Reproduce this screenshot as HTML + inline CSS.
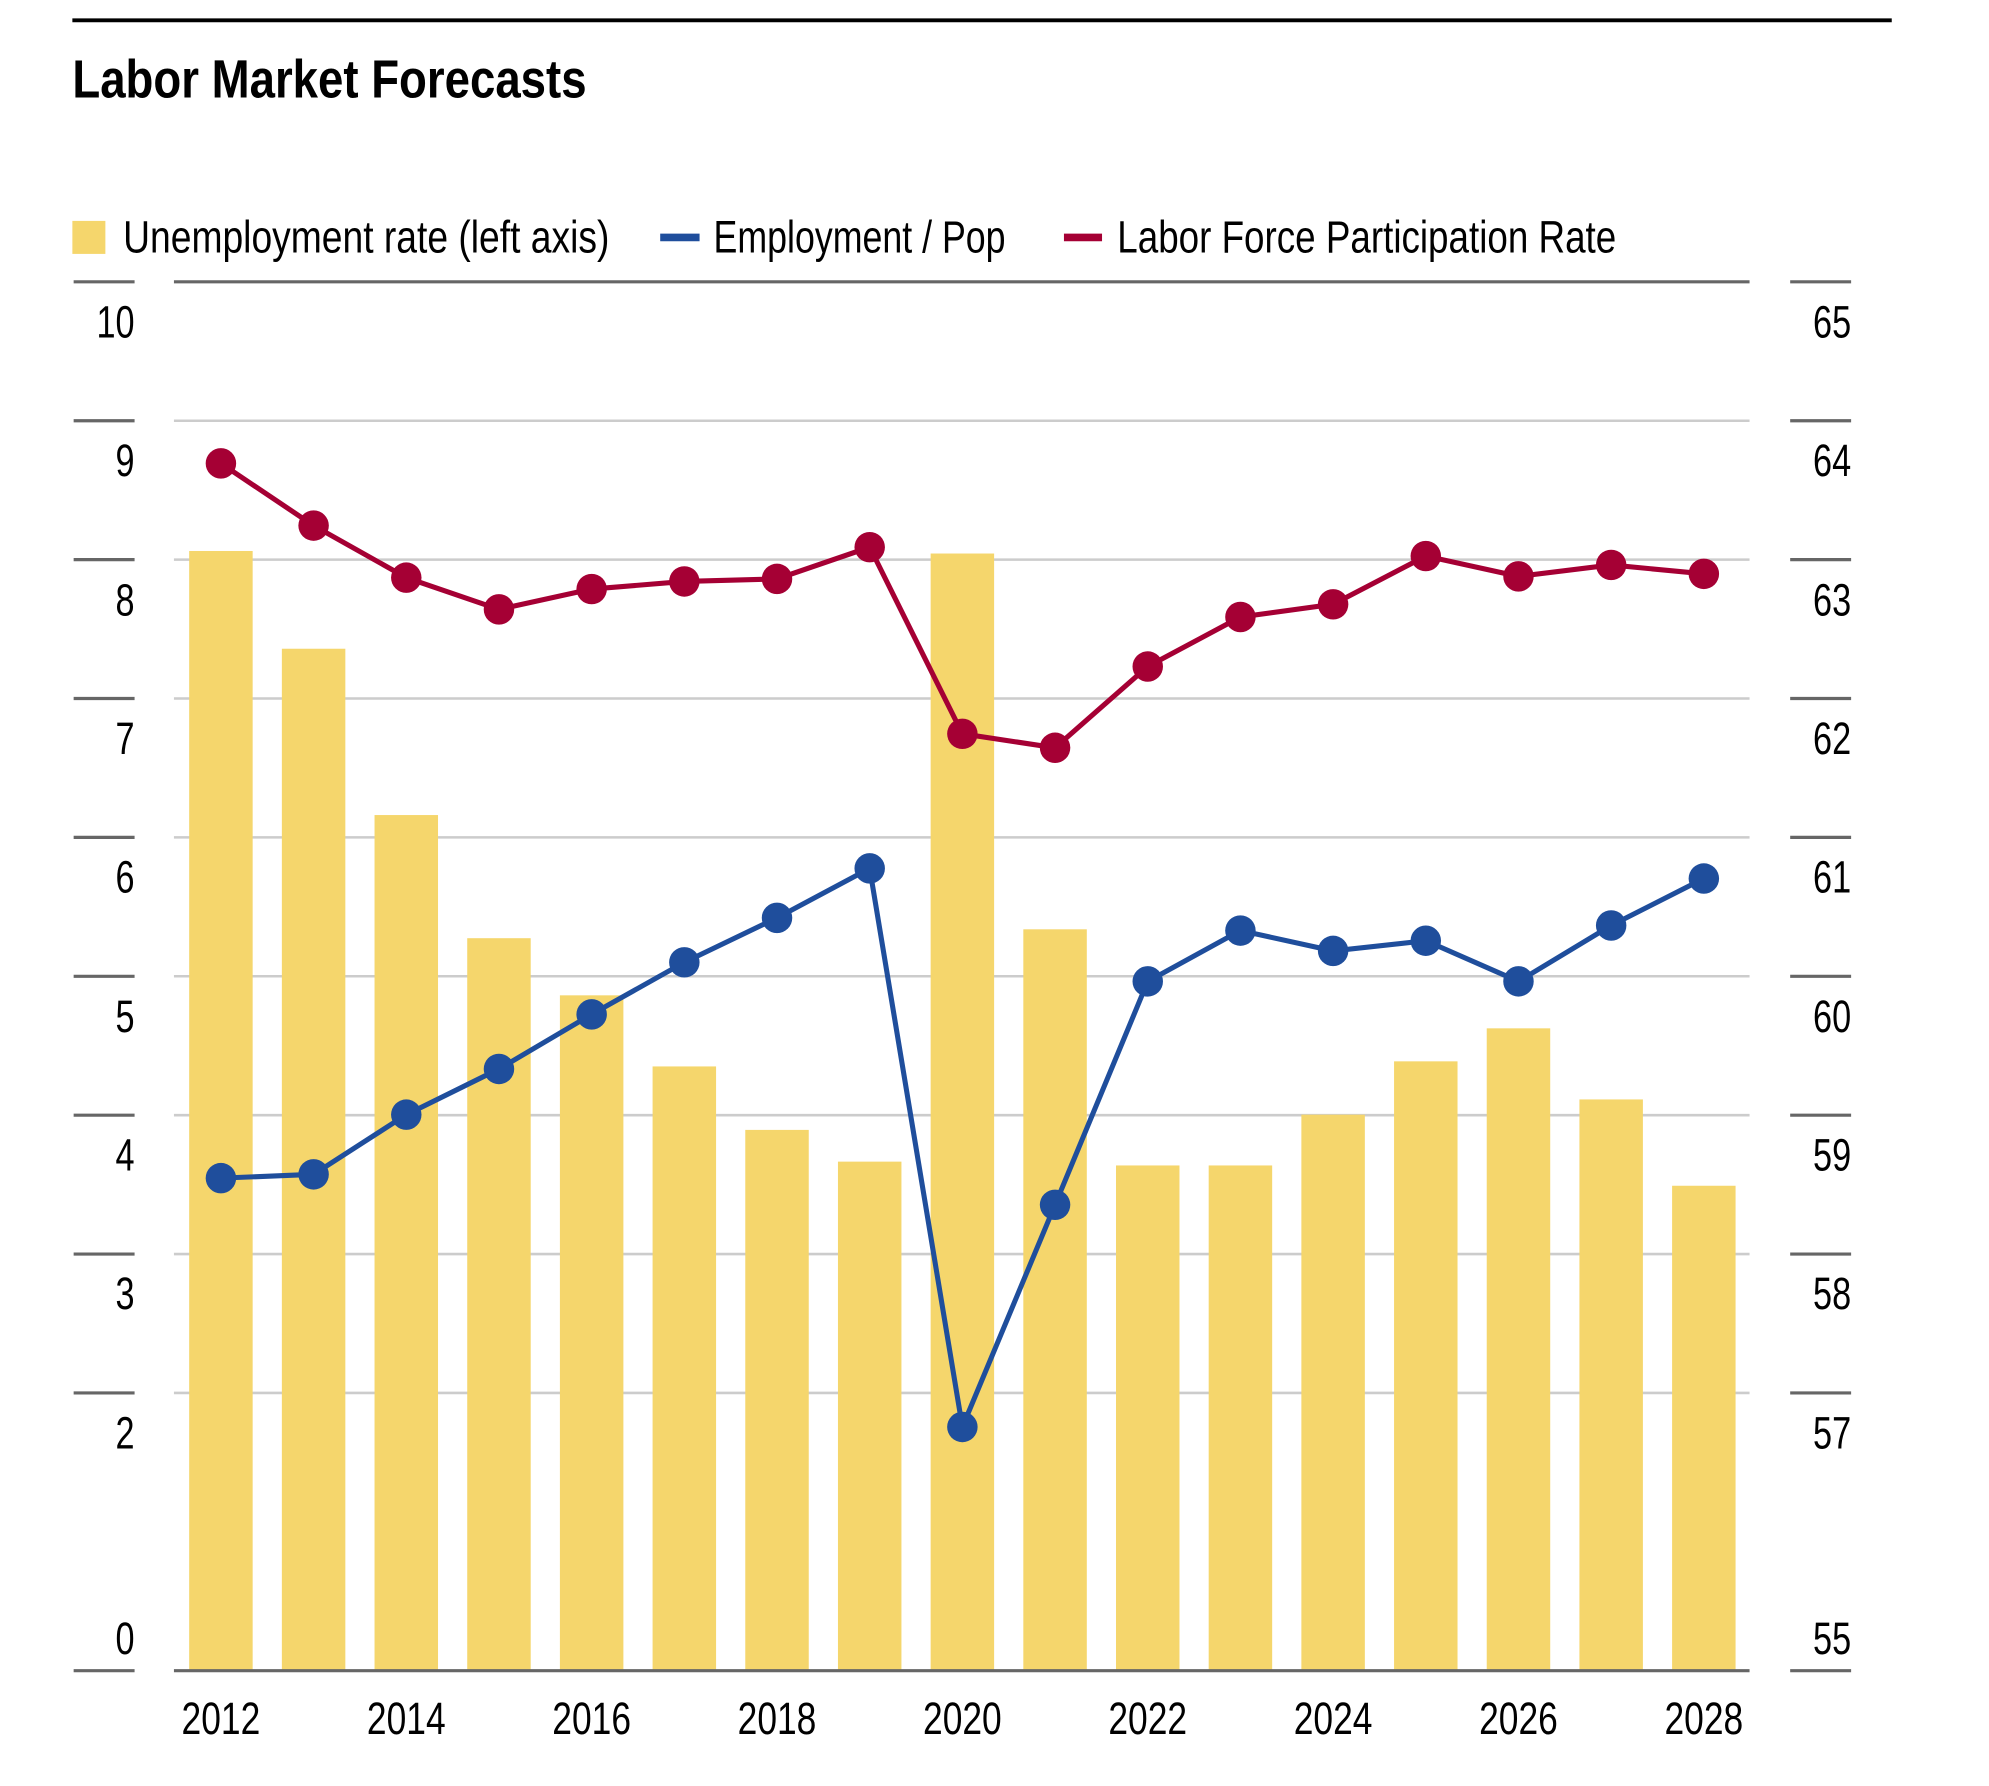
<!DOCTYPE html>
<html><head><meta charset="utf-8"><style>html,body{margin:0;padding:0;background:#fff}svg{display:block}</style></head>
<body>
<svg width="1989" height="1786" viewBox="0 0 1566.6 1406.8" preserveAspectRatio="none" xmlns="http://www.w3.org/2000/svg" font-family="Liberation Sans, sans-serif">
<rect width="1567" height="1407" fill="#fff"/>
<line x1="57" y1="16" x2="1490" y2="16" stroke="#000" stroke-width="3"/>
<text x="57" y="77" font-size="42" font-weight="bold" textLength="405" lengthAdjust="spacingAndGlyphs">Labor Market Forecasts</text>
<rect x="57" y="174" width="26" height="26" fill="#f5d66c"/>
<text x="97" y="199" font-size="36" textLength="383" lengthAdjust="spacingAndGlyphs">Unemployment rate (left axis)</text>
<line x1="520" y1="187" x2="551" y2="187" stroke="#1f4e9c" stroke-width="6"/>
<text x="562" y="199" font-size="36" textLength="230" lengthAdjust="spacingAndGlyphs">Employment / Pop</text>
<line x1="838" y1="187" x2="868" y2="187" stroke="#a50034" stroke-width="6"/>
<text x="880" y="199" font-size="36" textLength="393" lengthAdjust="spacingAndGlyphs">Labor Force Participation Rate</text>
<g stroke="#cccccc" stroke-width="2">
<line x1="137" y1="331.4" x2="1378" y2="331.4"/><line x1="137" y1="440.8" x2="1378" y2="440.8"/>
<line x1="137" y1="550.2" x2="1378" y2="550.2"/><line x1="137" y1="659.6" x2="1378" y2="659.6"/>
<line x1="137" y1="769" x2="1378" y2="769"/><line x1="137" y1="878.4" x2="1378" y2="878.4"/>
<line x1="137" y1="987.8" x2="1378" y2="987.8"/><line x1="137" y1="1097.2" x2="1378" y2="1097.2"/>
</g>
<g stroke="#666" stroke-width="2.5">
<line x1="137" y1="222" x2="1378" y2="222"/>
<line x1="58" y1="222" x2="106" y2="222"/><line x1="1410" y1="222" x2="1458" y2="222"/>
<line x1="58" y1="331.4" x2="106" y2="331.4"/><line x1="1410" y1="331.4" x2="1458" y2="331.4"/>
<line x1="58" y1="440.8" x2="106" y2="440.8"/><line x1="1410" y1="440.8" x2="1458" y2="440.8"/>
<line x1="58" y1="550.2" x2="106" y2="550.2"/><line x1="1410" y1="550.2" x2="1458" y2="550.2"/>
<line x1="58" y1="659.6" x2="106" y2="659.6"/><line x1="1410" y1="659.6" x2="1458" y2="659.6"/>
<line x1="58" y1="769" x2="106" y2="769"/><line x1="1410" y1="769" x2="1458" y2="769"/>
<line x1="58" y1="878.4" x2="106" y2="878.4"/><line x1="1410" y1="878.4" x2="1458" y2="878.4"/>
<line x1="58" y1="987.8" x2="106" y2="987.8"/><line x1="1410" y1="987.8" x2="1458" y2="987.8"/>
<line x1="58" y1="1097.2" x2="106" y2="1097.2"/><line x1="1410" y1="1097.2" x2="1458" y2="1097.2"/>
<line x1="58" y1="1316" x2="106" y2="1316"/><line x1="1410" y1="1316" x2="1458" y2="1316"/>
</g>
<g fill="#f5d66c">
<rect x="149" y="434" width="50" height="882"/><rect x="222" y="511" width="50" height="805"/>
<rect x="295" y="642" width="50" height="674"/><rect x="368" y="739" width="50" height="577"/>
<rect x="441" y="784" width="50" height="532"/><rect x="514" y="840" width="50" height="476"/>
<rect x="587" y="890" width="50" height="426"/><rect x="660" y="915" width="50" height="401"/>
<rect x="733" y="436" width="50" height="880"/><rect x="806" y="732" width="50" height="584"/>
<rect x="879" y="918" width="50" height="398"/><rect x="952" y="918" width="50" height="398"/>
<rect x="1025" y="878" width="50" height="438"/><rect x="1098" y="836" width="50" height="480"/>
<rect x="1171" y="810" width="50" height="506"/><rect x="1244" y="866" width="50" height="450"/>
<rect x="1317" y="934" width="50" height="382"/>
</g>
<line x1="137" y1="1316" x2="1378" y2="1316" stroke="#666" stroke-width="2.5"/>
<g font-size="36" text-anchor="end" lengthAdjust="spacingAndGlyphs">
<text x="106" y="266" textLength="30" lengthAdjust="spacingAndGlyphs">10</text>
<text x="106" y="375" textLength="15" lengthAdjust="spacingAndGlyphs">9</text>
<text x="106" y="485" textLength="15" lengthAdjust="spacingAndGlyphs">8</text>
<text x="106" y="594" textLength="15" lengthAdjust="spacingAndGlyphs">7</text>
<text x="106" y="703" textLength="15" lengthAdjust="spacingAndGlyphs">6</text>
<text x="106" y="813" textLength="15" lengthAdjust="spacingAndGlyphs">5</text>
<text x="106" y="922" textLength="15" lengthAdjust="spacingAndGlyphs">4</text>
<text x="106" y="1031" textLength="15" lengthAdjust="spacingAndGlyphs">3</text>
<text x="106" y="1141" textLength="15" lengthAdjust="spacingAndGlyphs">2</text>
<text x="106" y="1303" textLength="15" lengthAdjust="spacingAndGlyphs">0</text>
<text x="1458" y="266" textLength="30" lengthAdjust="spacingAndGlyphs">65</text>
<text x="1458" y="375" textLength="30" lengthAdjust="spacingAndGlyphs">64</text>
<text x="1458" y="485" textLength="30" lengthAdjust="spacingAndGlyphs">63</text>
<text x="1458" y="594" textLength="30" lengthAdjust="spacingAndGlyphs">62</text>
<text x="1458" y="703" textLength="30" lengthAdjust="spacingAndGlyphs">61</text>
<text x="1458" y="813" textLength="30" lengthAdjust="spacingAndGlyphs">60</text>
<text x="1458" y="922" textLength="30" lengthAdjust="spacingAndGlyphs">59</text>
<text x="1458" y="1031" textLength="30" lengthAdjust="spacingAndGlyphs">58</text>
<text x="1458" y="1141" textLength="30" lengthAdjust="spacingAndGlyphs">57</text>
<text x="1458" y="1303" textLength="30" lengthAdjust="spacingAndGlyphs">55</text>
</g>
<g font-size="36" text-anchor="middle">
<text x="174" y="1366" textLength="62" lengthAdjust="spacingAndGlyphs">2012</text>
<text x="320" y="1366" textLength="62" lengthAdjust="spacingAndGlyphs">2014</text>
<text x="466" y="1366" textLength="62" lengthAdjust="spacingAndGlyphs">2016</text>
<text x="612" y="1366" textLength="62" lengthAdjust="spacingAndGlyphs">2018</text>
<text x="758" y="1366" textLength="62" lengthAdjust="spacingAndGlyphs">2020</text>
<text x="904" y="1366" textLength="62" lengthAdjust="spacingAndGlyphs">2022</text>
<text x="1050" y="1366" textLength="62" lengthAdjust="spacingAndGlyphs">2024</text>
<text x="1196" y="1366" textLength="62" lengthAdjust="spacingAndGlyphs">2026</text>
<text x="1342" y="1366" textLength="62" lengthAdjust="spacingAndGlyphs">2028</text>
</g>
<g fill="#a50034" stroke="#a50034">
<polyline fill="none" stroke-width="4" points="174,365 247,414 320,455 393,480 466,464 539,458 612,456 685,431 758,578 831,589 904,525 977,486 1050,476 1123,438 1196,454 1269,445 1342,452"/>
<g stroke="none">
<circle cx="174" cy="365" r="12"/><circle cx="247" cy="414" r="12"/><circle cx="320" cy="455" r="12"/><circle cx="393" cy="480" r="12"/><circle cx="466" cy="464" r="12"/><circle cx="539" cy="458" r="12"/><circle cx="612" cy="456" r="12"/><circle cx="685" cy="431" r="12"/><circle cx="758" cy="578" r="12"/><circle cx="831" cy="589" r="12"/><circle cx="904" cy="525" r="12"/><circle cx="977" cy="486" r="12"/><circle cx="1050" cy="476" r="12"/><circle cx="1123" cy="438" r="12"/><circle cx="1196" cy="454" r="12"/><circle cx="1269" cy="445" r="12"/><circle cx="1342" cy="452" r="12"/>
</g></g>
<g fill="#1f4e9c" stroke="#1f4e9c">
<polyline fill="none" stroke-width="4" points="174,928 247,925 320,878 393,842 466,799 539,758 612,723 685,684 758,1124 831,949 904,773 977,733 1050,749 1123,741 1196,773 1269,729 1342,692"/>
<g stroke="none">
<circle cx="174" cy="928" r="12"/><circle cx="247" cy="925" r="12"/><circle cx="320" cy="878" r="12"/><circle cx="393" cy="842" r="12"/><circle cx="466" cy="799" r="12"/><circle cx="539" cy="758" r="12"/><circle cx="612" cy="723" r="12"/><circle cx="685" cy="684" r="12"/><circle cx="758" cy="1124" r="12"/><circle cx="831" cy="949" r="12"/><circle cx="904" cy="773" r="12"/><circle cx="977" cy="733" r="12"/><circle cx="1050" cy="749" r="12"/><circle cx="1123" cy="741" r="12"/><circle cx="1196" cy="773" r="12"/><circle cx="1269" cy="729" r="12"/><circle cx="1342" cy="692" r="12"/>
</g></g>
</svg>
</body></html>
